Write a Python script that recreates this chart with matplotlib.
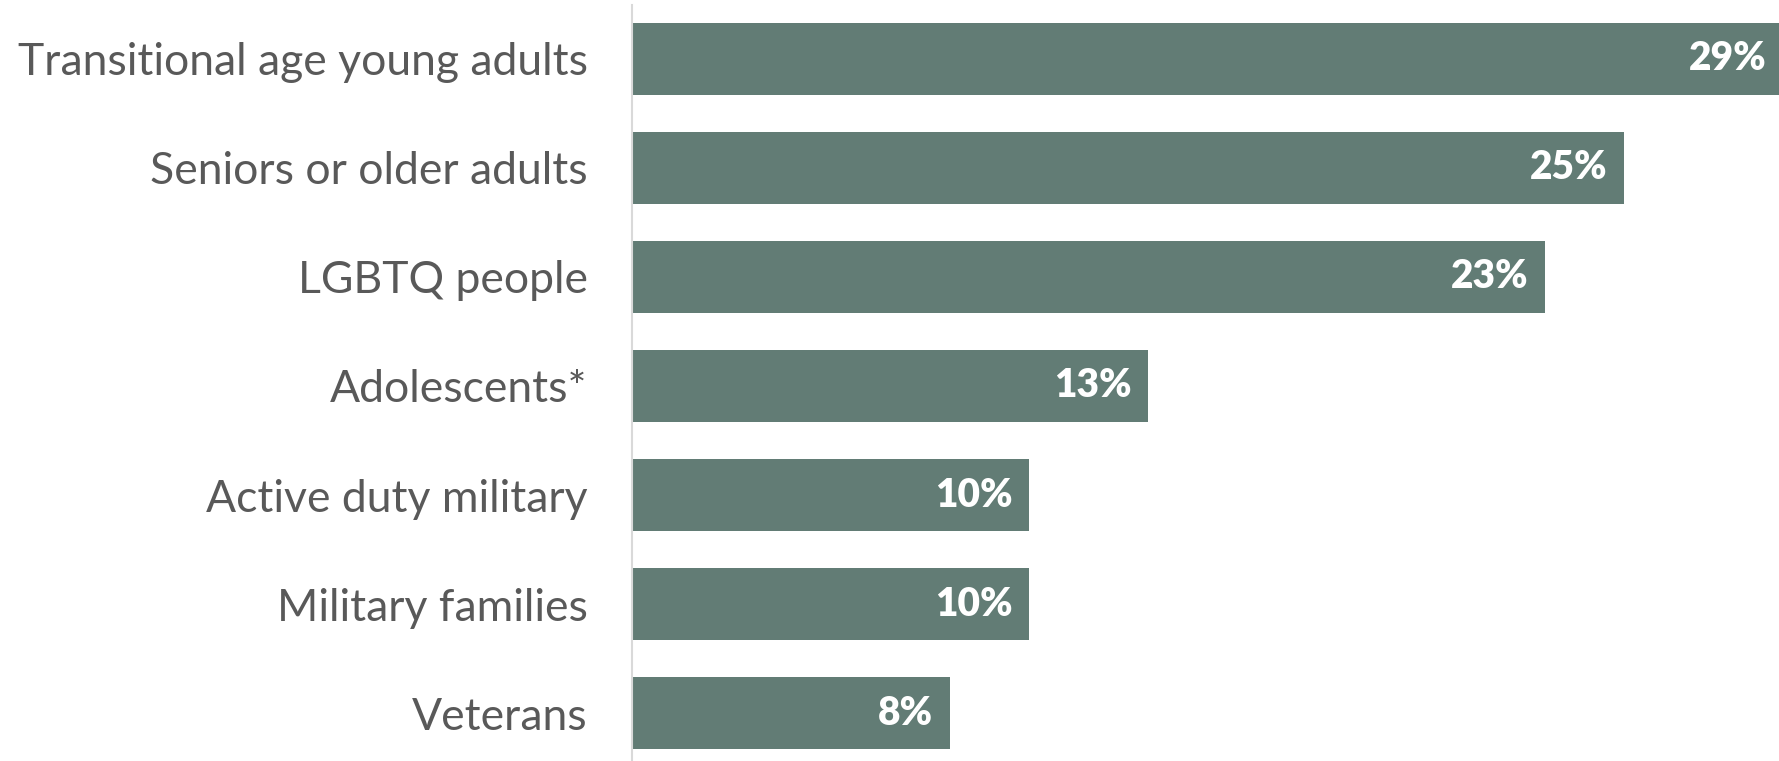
import matplotlib
matplotlib.use("Agg")
import matplotlib.pyplot as plt

categories = ["Transitional age young adults", "Seniors or older adults", "LGBTQ people",
              "Adolescents*", "Active duty military", "Military families", "Veterans"]
values = [29, 25, 23, 13, 10, 10, 8]
value_labels = ["29%", "25%", "23%", "13%", "10%", "10%", "8%"]

bar_color = "#627c75"
text_color = "#595959"

plt.rcParams['font.family'] = ['Lato', 'DejaVu Sans']

fig = plt.figure(figsize=(17.79, 7.61), dpi=100)
ax = fig.add_axes([632 / 1779, 0, 1 - 632 / 1779, 1 - 5 / 761])

y = list(range(len(categories)))
ax.barh(y, values, height=0.667, color=bar_color)

for yi, v, lab in zip(y, values, value_labels):
    ax.annotate(lab, (v, yi), xytext=(-12, 0), textcoords="offset points",
                ha="right", va="center", color="white", fontsize=28, fontweight="heavy",
                annotation_clip=False)

ax.set_xlim(0, 28.9)
ax.set_ylim(6.44, -0.495)
ax.set_yticks(y)
ax.set_yticklabels(categories, fontsize=32, color=text_color)
ax.tick_params(axis="y", length=0, pad=32)
ax.set_xticks([])

for s in ["top", "right", "bottom"]:
    ax.spines[s].set_visible(False)
ax.spines["left"].set_color("#d9d9d9")
ax.spines["left"].set_linewidth(1.5)

fig.savefig("out.png", dpi=100)
